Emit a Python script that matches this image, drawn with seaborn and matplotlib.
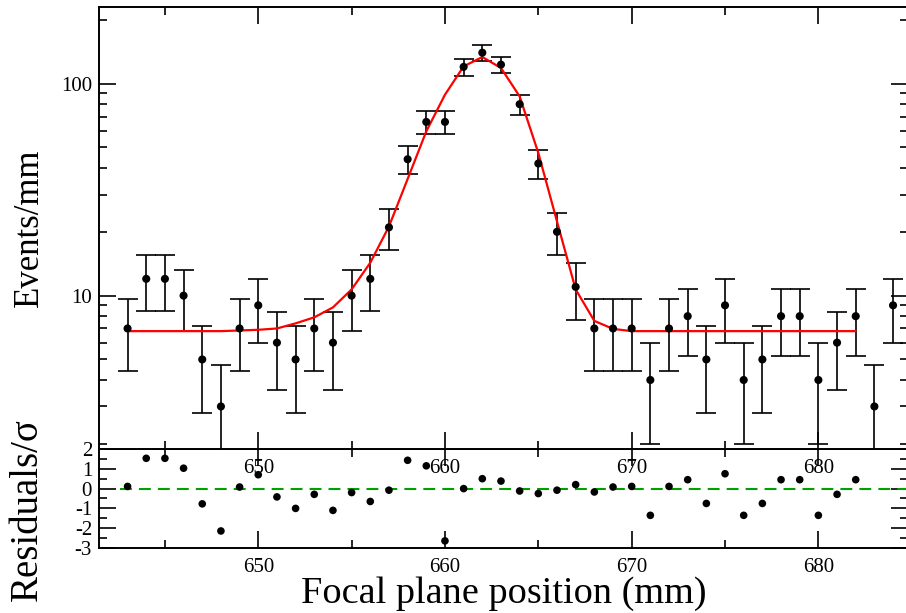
import numpy as np
import matplotlib
matplotlib.use('Agg')
import matplotlib.pyplot as plt
import matplotlib.ticker as mticker
import seaborn as sns

# focal plane spectrum (events/mm), Poisson errors
pos = [643, 644, 645, 646, 647, 648, 649, 650, 651, 652, 653, 654, 655, 656,
       657, 658, 659, 660, 661, 662, 663, 664, 665, 666, 667, 668, 669, 670,
       671, 672, 673, 674, 675, 676, 677, 678, 679, 680, 681, 682, 683, 684]
counts = [7, 12, 12, 10, 5, 3, 7, 9, 6, 5, 7, 6, 10, 12,
          21, 44, 66, 66, 120, 140, 123, 80, 42, 20, 11, 7, 7, 7,
          4, 7, 8, 5, 9, 4, 5, 8, 8, 4, 6, 8, 3, 9]
err = [2.6, 3.5, 3.5, 3.2, 2.2, 1.7, 2.6, 3.0, 2.4, 2.2, 2.6, 2.4, 3.2, 3.5,
       4.6, 6.6, 8.1, 8.1, 11.0, 11.8, 11.1, 8.9, 6.5, 4.5, 3.3, 2.6, 2.6, 2.6,
       2.0, 2.6, 2.8, 2.2, 3.0, 2.0, 2.2, 2.8, 2.8, 2.0, 2.4, 2.8, 1.7, 3.0]

# fitted curve (gaussian + flat background), read at each mm
fit_pos = pos[:40]
fit_vals = [6.8, 6.8, 6.8, 6.8, 6.8, 6.8, 6.85, 6.9, 7.0, 7.4, 7.9, 8.8, 10.7, 14.3,
            21.2, 35.5, 59.6, 88.7, 120.7, 133.6, 118.6, 87.1, 47.1, 22.4, 10.7, 7.6, 6.97, 6.8,
            6.8, 6.8, 6.8, 6.8, 6.8, 6.8, 6.8, 6.8, 6.8, 6.8, 6.8, 6.8]

# residuals / sigma
resid = [0.11, 1.53, 1.53, 1.03, -0.77, -2.14, 0.08, 0.70, -0.42, -1.0, -0.29, -1.1, -0.2, -0.65,
         -0.08, 1.43, 1.15, -2.64, 0.0, 0.5, 0.38, -0.12, -0.25, -0.08, 0.2, -0.17, 0.08, 0.11,
         -1.35, 0.11, 0.45, -0.75, 0.75, -1.35, -0.75, 0.45, 0.45, -1.35, -0.29, 0.45]
zero_start = 642.6

sns.set_style('ticks')
plt.rcParams['font.family'] = ['Liberation Serif', 'DejaVu Serif']
plt.rcParams['axes.unicode_minus'] = False
for k in ['text.color', 'axes.labelcolor', 'xtick.color', 'ytick.color', 'axes.edgecolor']:
    plt.rcParams[k] = 'black'

fig = plt.figure(figsize=(9.06, 6.13), dpi=100)
W, H = 906, 613
left, right = 99, 908
ax2 = fig.add_axes([left / W, 1 - 548 / H, (right - left) / W, 99 / H])
ax1 = fig.add_axes([left / W, 1 - 449 / H, (right - left) / W, 442 / H])
ax1.set_zorder(3)
ax2.set_zorder(2)
ax2.patch.set_alpha(0)

xlim = (641.47, 684.8)

# top panel
ax1.errorbar(pos, counts, yerr=err, fmt='none', ecolor='black', elinewidth=1.2,
             capsize=7, capthick=1.2, zorder=2)
sns.lineplot(x=fit_pos, y=fit_vals, ax=ax1, color='red', lw=1.6, zorder=3)
sns.scatterplot(x=pos, y=counts, ax=ax1, color='black', s=34, edgecolor='none', zorder=4)
ax1.set_yscale('log')
ax1.set_ylim(1.89, 230)
ax1.set_xlim(*xlim)
ax1.yaxis.set_major_locator(mticker.FixedLocator([10, 100]))
ax1.yaxis.set_major_formatter(mticker.FixedFormatter(['10', '100']))
ax1.yaxis.set_minor_locator(mticker.LogLocator(base=10, subs=np.arange(2, 10)))
ax1.yaxis.set_minor_formatter(mticker.NullFormatter())
ax1.xaxis.set_major_locator(mticker.MultipleLocator(10))
ax1.xaxis.set_minor_locator(mticker.MultipleLocator(5))
ax1.set_ylabel('Events/mm', fontsize=25)
ax1.yaxis.set_label_coords(-0.066, 0.5)

# residual panel
ax2.hlines(0, zero_start, xlim[1], colors='#00a000', linestyles=(0, (5.7, 3.4)), lw=1.5, zorder=1)
sns.scatterplot(x=fit_pos, y=resid, ax=ax2, color='black', s=30, edgecolor='none', zorder=4)
ax2.set_xlim(*xlim)
ax2.set_ylim(-3, 2)
ax2.yaxis.set_major_locator(mticker.MultipleLocator(1))
ax2.yaxis.set_minor_locator(mticker.MultipleLocator(0.5))
ax2.xaxis.set_major_locator(mticker.MultipleLocator(10))
ax2.xaxis.set_minor_locator(mticker.MultipleLocator(5))
ax2.set_ylabel('Residuals/σ', fontsize=28)
ax2.yaxis.set_label_coords(-0.066, 0.39)
ax2.set_xlabel('Focal plane position (mm)', fontsize=27.5)
ax2.xaxis.set_label_coords(0.5, -0.29)

for ax in (ax1, ax2):
    ax.tick_params(which='both', direction='in', top=True, right=True,
                   width=1.2, colors='black', labelsize=15)
    ax.tick_params(which='major', length=12)
    ax.tick_params(which='minor', length=6)
    ax.tick_params(axis='x', pad=7)
    ax.tick_params(axis='y', pad=5)
    for s in ax.spines.values():
        s.set_linewidth(1.4)
        s.set_color('black')

fig.savefig('out.png', dpi=100)
